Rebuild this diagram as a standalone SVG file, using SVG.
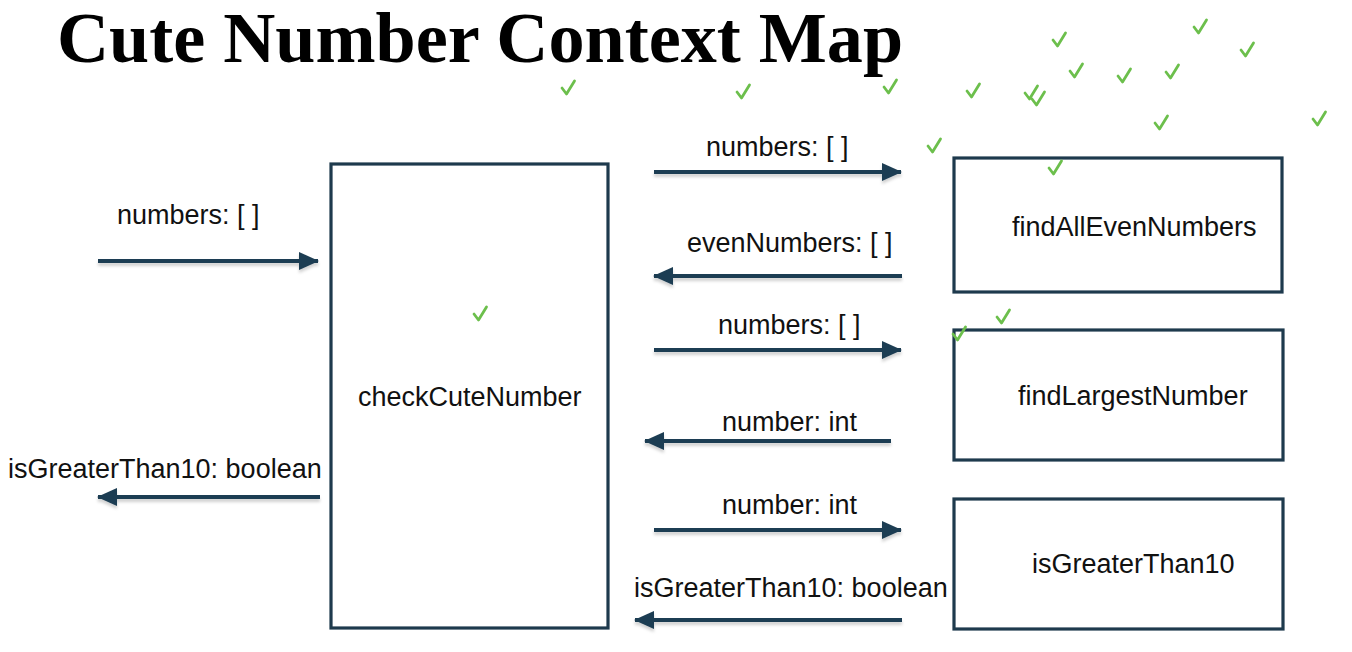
<svg xmlns="http://www.w3.org/2000/svg" xmlns:xlink="http://www.w3.org/1999/xlink" width="1352" height="652" viewBox="0 0 1352 652">
  <style>
    .title { font-family: "Liberation Serif", "Times New Roman", serif; font-weight: bold; font-size: 72px; fill: #000; }
    .lbl { font-family: "Liberation Sans", Arial, sans-serif; font-size: 27px; fill: #111; }
    .box { fill: #fff; stroke: #1e3a4d; stroke-width: 3.2; }
    .conn { stroke: #1d3d52; stroke-width: 4; fill: none; marker-end: url(#head); }
    .chk { fill: none; stroke: #6cbf4c; stroke-width: 2.8; stroke-linecap: round; stroke-linejoin: round; }
  </style>
  <defs>
    <marker id="head" markerUnits="userSpaceOnUse" markerWidth="20" markerHeight="20" viewBox="0 0 20 20" refX="19" refY="10" orient="auto">
      <path d="M0,1 L20,10 L0,19 Z" fill="#1d3d52"/>
    </marker>
    <filter id="sh" filterUnits="userSpaceOnUse" x="0" y="0" width="1352" height="652">
      <feDropShadow dx="0" dy="3" stdDeviation="1.8" flood-color="#000" flood-opacity="0.18"/>
    </filter>
    <path id="tick" class="chk" d="M-6,0 L-1.5,6 L6.5,-7"/>
  </defs>
  <rect width="1352" height="652" fill="#fff"/>

  <text class="title" x="57" y="62" textLength="846" lengthAdjust="spacingAndGlyphs">Cute Number Context Map</text>

  <g id="connectors" filter="url(#sh)">
    <line class="conn" x1="98" y1="261" x2="318" y2="261"/>
    <line class="conn" x1="320" y1="497" x2="98" y2="497"/>
    <line class="conn" x1="654" y1="172" x2="901" y2="172"/>
    <line class="conn" x1="902" y1="276" x2="654" y2="276"/>
    <line class="conn" x1="654" y1="350" x2="901" y2="350"/>
    <line class="conn" x1="891" y1="441" x2="645" y2="441"/>
    <line class="conn" x1="654" y1="530" x2="901" y2="530"/>
    <line class="conn" x1="902" y1="620" x2="635" y2="620"/>
  </g>

  <g id="connector-labels">
    <text class="lbl" x="117" y="224">numbers: [ ]</text>
    <text class="lbl" x="8" y="478">isGreaterThan10: boolean</text>
    <text class="lbl" x="706" y="156">numbers: [ ]</text>
    <text class="lbl" x="687" y="252">evenNumbers: [ ]</text>
    <text class="lbl" x="718" y="334">numbers: [ ]</text>
    <text class="lbl" x="722" y="431">number: int</text>
    <text class="lbl" x="722" y="514">number: int</text>
    <text class="lbl" x="634" y="597">isGreaterThan10: boolean</text>
  </g>

  <g id="checkCuteNumber">
    <rect class="box" x="331" y="164" width="277" height="464"/>
    <text class="lbl" x="358" y="406">checkCuteNumber</text>
  </g>
  <g id="findAllEvenNumbers">
    <rect class="box" x="954" y="158" width="328" height="134"/>
    <text class="lbl" x="1012" y="236">findAllEvenNumbers</text>
  </g>
  <g id="findLargestNumber">
    <rect class="box" x="954" y="330" width="329" height="130"/>
    <text class="lbl" x="1018" y="405">findLargestNumber</text>
  </g>
  <g id="isGreaterThan10">
    <rect class="box" x="954" y="499" width="329" height="130"/>
    <text class="lbl" x="1032" y="573">isGreaterThan10</text>
  </g>

  <g id="decorations">
    <use xlink:href="#tick" x="568" y="88"/>
    <use xlink:href="#tick" x="743" y="92"/>
    <use xlink:href="#tick" x="890" y="87"/>
    <use xlink:href="#tick" x="973" y="91"/>
    <use xlink:href="#tick" x="1031" y="93"/>
    <use xlink:href="#tick" x="1038" y="99"/>
    <use xlink:href="#tick" x="1059" y="40"/>
    <use xlink:href="#tick" x="1076" y="71"/>
    <use xlink:href="#tick" x="1124" y="76"/>
    <use xlink:href="#tick" x="1172" y="72"/>
    <use xlink:href="#tick" x="1200" y="27"/>
    <use xlink:href="#tick" x="1247" y="50"/>
    <use xlink:href="#tick" x="1161" y="123"/>
    <use xlink:href="#tick" x="1319" y="119"/>
    <use xlink:href="#tick" x="934" y="146"/>
    <use xlink:href="#tick" x="1055" y="168"/>
    <use xlink:href="#tick" x="480" y="314"/>
    <use xlink:href="#tick" x="959" y="334"/>
    <use xlink:href="#tick" x="1003" y="317"/>
  </g>
</svg>
